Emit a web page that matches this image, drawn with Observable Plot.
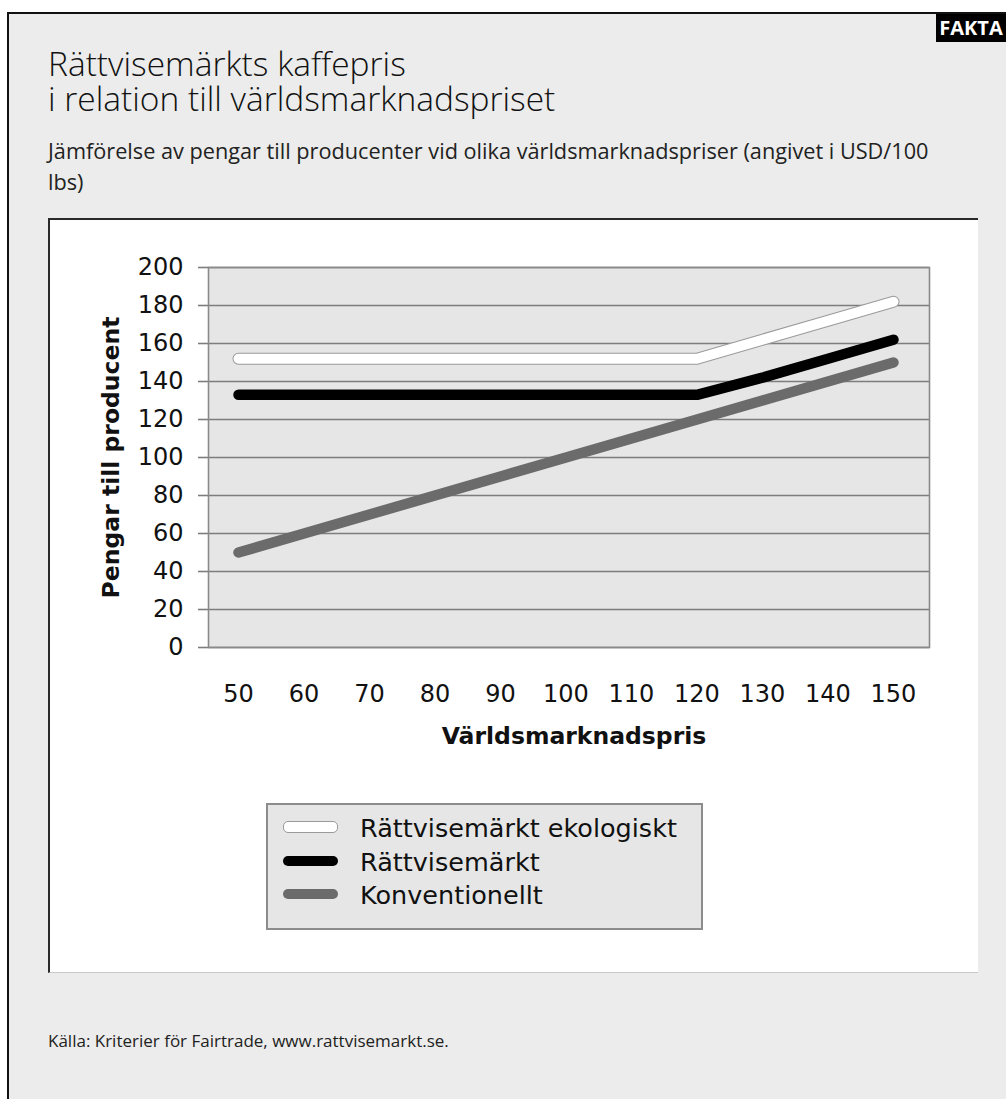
<!DOCTYPE html>
<html lang="sv">
<head>
<meta charset="utf-8">
<script src="https://cdn.jsdelivr.net/npm/d3@7"></script>
<script src="https://cdn.jsdelivr.net/npm/@observablehq/plot@0.6"></script>
<style>
  html, body { margin: 0; padding: 0; background: #ffffff; }
  #root { position: relative; width: 1006px; height: 1099px; overflow: hidden; background: #ffffff; }
  #panel { position: absolute; left: 7px; top: 12px; right: 0; bottom: 0;
    background: #ebeceb; border-left: 2px solid #111; border-top: 2px solid #111; }
  #badge { position: absolute; left: 936px; top: 14px; width: 70px; height: 28px; background: #000;
    color: #fff; font-family: "Open Sans", sans-serif; font-weight: 700; font-size: 20px;
    line-height: 28px; text-align: center; }
  #title { position: absolute; left: 48px; top: 46px; margin: 0; font-family: "Open Sans", sans-serif;
    font-weight: 300; font-size: 33.5px; color: #111; white-space: nowrap; }
  #title div { height: 35px; line-height: 35px; }
  #subtitle { position: absolute; left: 48px; top: 135px; margin: 0; font-family: "Open Sans", sans-serif;
    font-weight: 400; font-size: 21.7px; color: #222; white-space: nowrap; }
  #subtitle div { height: 31px; line-height: 31px; }
  #box { position: absolute; left: 48px; top: 218px; width: 930px; height: 755px; box-sizing: border-box;
    background: #ffffff; border-left: 2px solid #2a2a2a; border-top: 2px solid #2a2a2a; border-bottom: 1px solid #c8c8c8; }
  #chart { position: absolute; left: 48px; top: 219px; }
  #legend { position: absolute; left: 266px; top: 803px; height: 127px; box-sizing: border-box;
    background: #e6e6e6; border: 2px solid #8c8c8c; padding: 7px 24px 0 15px;
    font-family: "DejaVu Sans", sans-serif; font-size: 25.5px; color: #111; }
  .row { height: 33.5px; line-height: 33.5px; white-space: nowrap; }
  .sw { display: inline-block; width: 55px; height: 10px; border-radius: 5px; margin-right: 22px;
    vertical-align: middle; box-sizing: border-box; position: relative; top: -3px; }
  #source { position: absolute; left: 48px; top: 1026px; margin: 0; font-family: "Open Sans", sans-serif;
    font-size: 17px; line-height: 30px; color: #222; white-space: nowrap; }
</style>
</head>
<body>
<div id="root">
  <div id="panel"></div>
  <div id="badge">FAKTA</div>
  <div id="title"></div>
  <div id="subtitle"></div>
  <div id="box"></div>
  <div id="chart"></div>
  <div id="legend"></div>
  <p id="source"></p>
</div>
<script>
// ---- Data ----
const prices = [50, 60, 70, 80, 90, 100, 110, 120, 130, 140, 150];
const ekologiskt = [152, 152, 152, 152, 152, 152, 152, 152, 162, 172, 182];
const rattvisemarkt = [133, 133, 133, 133, 133, 133, 133, 133, 142, 152, 162];
const konventionellt = [50, 60, 70, 80, 90, 100, 110, 120, 130, 140, 150];
const seriesNames = ["Rättvisemärkt ekologiskt", "Rättvisemärkt", "Konventionellt"];
const seriesColors = ["#ffffff", "#000000", "#6b6b6b"];
const yTicks = [0, 20, 40, 60, 80, 100, 120, 140, 160, 180, 200];
const titleLines = ["Rättvisemärkts kaffepris", "i relation till världsmarknadspriset"];
const subtitleLines = ["Jämförelse av pengar till producenter vid olika världsmarknadspriser (angivet i USD/100", "lbs)"];
const xLabel = "Världsmarknadspris";
const yLabel = "Pengar till producent";
const sourceText = "Källa: Kriterier för Fairtrade, www.rattvisemarkt.se.";

// ---- Text ----
const setLines = (el, lines) => {
  lines.forEach(t => {
    const d = document.createElement("div");
    d.textContent = t;
    el.appendChild(d);
  });
};
setLines(document.getElementById("title"), titleLines);
setLines(document.getElementById("subtitle"), subtitleLines);
document.getElementById("source").textContent = sourceText;

// ---- Table ----
const seriesValues = [ekologiskt, rattvisemarkt, konventionellt];
const rows = [];
seriesNames.forEach((name, s) => {
  prices.forEach((p, i) => rows.push({series: name, price: p, value: seriesValues[s][i]}));
});
const bySeries = name => rows.filter(d => d.series === name);

const lineOpts = {x: "price", y: "value", strokeWidth: 10.5, strokeLinecap: "round", strokeLinejoin: "round"};

const chart = Plot.plot({
  width: 930,
  height: 540,
  marginLeft: 160,
  marginRight: 49,
  marginTop: 48,
  marginBottom: 112,
  style: {fontFamily: "DejaVu Sans, sans-serif", fontSize: "24px", color: "#111", background: "transparent", overflow: "visible"},
  x: {domain: [45.42, 155.5]},
  y: {domain: [0, 200]},
  marks: [
    Plot.frame({fill: "#e6e6e6", stroke: null}),
    Plot.gridY(yTicks, {stroke: "#7d7d7d", strokeOpacity: 1, strokeWidth: 1.6}),
    Plot.axisY({ticks: yTicks, tickSize: 10, tickPadding: 15, stroke: "#7d7d7d", strokeWidth: 1.6,
      fontSize: 24, label: null, tickFormat: d => String(d)}),
    Plot.axisX({ticks: prices, tickSize: 0, tickPadding: 37, fontSize: 24, label: null, tickFormat: d => String(d)}),
    Plot.frame({stroke: "#8a8a8a", strokeWidth: 1.6}),
    Plot.line(bySeries(seriesNames[2]), {...lineOpts, stroke: seriesColors[2]}),
    Plot.line(bySeries(seriesNames[1]), {...lineOpts, stroke: seriesColors[1]}),
    Plot.line(bySeries(seriesNames[0]), {...lineOpts, stroke: "#9a9a9a", strokeWidth: 12}),
    Plot.line(bySeries(seriesNames[0]), {...lineOpts, stroke: seriesColors[0], strokeWidth: 10}),
    Plot.text([xLabel], {frameAnchor: "bottom", dy: 96, dx: 5, textAnchor: "middle", lineAnchor: "bottom",
      fontWeight: "bold", fontSize: 23.5, fill: "#111"}),
    Plot.text([yLabel], {frameAnchor: "left", dx: -90, rotate: -90, textAnchor: "middle", lineAnchor: "bottom",
      fontWeight: "bold", fontSize: 23.5, fill: "#111"})
  ]
});
document.getElementById("chart").appendChild(chart);

// ---- Legend ----
const legend = document.getElementById("legend");
seriesNames.forEach((name, i) => {
  const row = document.createElement("div");
  row.className = "row";
  const sw = document.createElement("span");
  sw.className = "sw";
  sw.style.background = seriesColors[i];
  if (i === 0) { sw.style.border = "1px solid #9a9a9a"; sw.style.height = "12px"; sw.style.top = "-3px"; }
  row.appendChild(sw);
  row.appendChild(document.createTextNode(name));
  legend.appendChild(row);
});
</script>
</body>
</html>
